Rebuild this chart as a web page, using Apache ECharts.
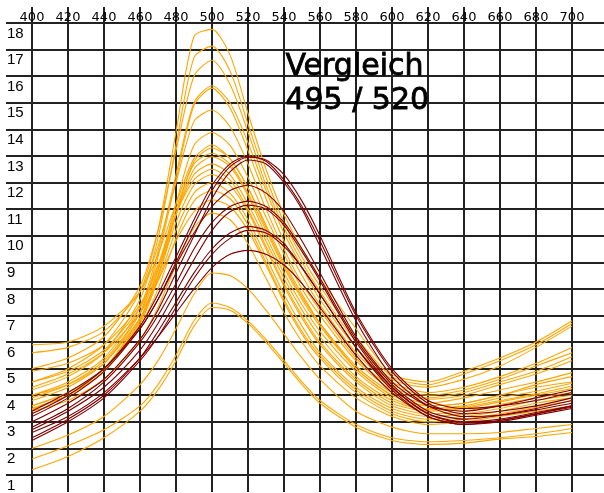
<!DOCTYPE html>
<html>
<head>
<meta charset="utf-8">
<script src="https://cdn.jsdelivr.net/npm/echarts@6/dist/echarts.min.js"></script>
<style>
  html, body { margin: 0; padding: 0; background: #fff; }
  #chart { width: 604px; height: 493px; }
</style>
</head>
<body>
<div id="chart"></div>
<script>
// wavelengths (nm)
const wl = [400, 420, 440, 460, 470, 480, 490, 500, 510, 520, 530, 540, 550, 560, 580, 600, 620, 640, 660, 680, 700];

// orange curves (peak around 495)
const o1  = [4.5, 5.0, 5.9, 7.9, 10.2, 13.9, 17.5, 17.76, 16.8, 14.6, 12.5, 10.8, 9.5, 8.4, 6.5, 4.8, 4.5, 4.9, 5.4, 6.0, 6.8];
const o2  = [4.2, 4.7, 5.6, 7.6, 9.9, 13.4, 16.7, 17.13, 16.2, 14.2, 12.2, 10.5, 9.2, 8.1, 6.2, 4.7, 4.4, 4.8, 5.3, 5.9, 6.7];
const o3  = [5.0, 5.4, 6.2, 8.1, 10.2, 13.2, 16.0, 16.6, 15.7, 13.9, 11.9, 10.3, 9.0, 7.9, 6.0, 4.6, 4.3, 4.6, 5.1, 5.8, 6.6];
const o4  = [4.0, 4.5, 5.4, 7.3, 9.4, 12.3, 15.0, 15.64, 15.0, 13.5, 11.7, 10.1, 8.8, 7.6, 5.8, 4.5, 4.1, 4.3, 4.7, 5.2, 5.8];
const o5  = [3.8, 4.3, 5.2, 7.1, 9.2, 12.1, 14.9, 15.55, 14.8, 13.2, 11.4, 9.8, 8.5, 7.4, 5.6, 4.4, 4.0, 4.2, 4.6, 5.1, 5.6];
const o6  = [5.6, 5.8, 6.4, 7.9, 9.6, 12.0, 14.3, 14.73, 14.1, 12.7, 11.0, 9.5, 8.2, 7.2, 5.4, 4.3, 3.9, 4.1, 4.5, 4.9, 5.45];
const o7  = [3.6, 4.1, 5.0, 6.8, 8.7, 11.2, 13.4, 13.88, 13.4, 12.2, 10.7, 9.3, 8.0, 7.0, 5.3, 4.2, 3.85, 4.0, 4.4, 4.8, 5.3];
const o8  = [5.9, 6.0, 6.6, 7.9, 9.3, 11.2, 12.9, 13.41, 12.9, 11.8, 10.3, 8.9, 7.7, 6.7, 5.1, 4.1, 3.7, 3.9, 4.2, 4.5, 4.85];
const o9  = [3.5, 4.0, 4.9, 6.7, 8.4, 10.8, 12.8, 13.3, 12.9, 11.8, 10.4, 9.0, 7.8, 6.7, 5.0, 4.0, 3.6, 3.7, 4.0, 4.4, 4.7];
const o10 = [4.9, 5.2, 5.9, 7.4, 8.9, 11.0, 12.7, 13.1, 12.7, 11.6, 10.2, 8.8, 7.6, 6.6, 5.0, 4.0, 3.6, 3.7, 4.0, 4.3, 4.5];
const o11 = [3.45, 4.0, 4.9, 6.8, 8.5, 10.8, 12.5, 12.97, 12.6, 11.5, 10.0, 8.6, 7.4, 6.4, 4.9, 3.9, 3.5, 3.6, 3.9, 4.15, 4.45];
const o12 = [3.9, 4.4, 5.3, 7.1, 8.7, 10.8, 12.3, 12.7, 12.3, 11.2, 9.8, 8.4, 7.2, 6.2, 4.7, 3.8, 3.45, 3.55, 3.8, 4.05, 4.35];
const o13 = [4.5, 4.9, 5.7, 7.3, 8.8, 10.8, 12.1, 12.5, 12.1, 11.0, 9.6, 8.2, 7.0, 6.0, 4.6, 3.7, 3.4, 3.5, 3.75, 4.0, 4.25];
const o14 = [3.6, 4.1, 5.0, 6.9, 8.5, 10.5, 11.9, 12.3, 11.9, 10.9, 9.5, 8.1, 6.9, 5.9, 4.5, 3.6, 3.3, 3.4, 3.65, 3.9, 4.1];
const o15 = [4.0, 4.4, 5.2, 6.9, 8.3, 10.2, 11.6, 12.0, 11.6, 10.6, 9.2, 7.8, 6.6, 5.6, 4.3, 3.5, 3.2, 3.3, 3.5, 3.8, 4.0];
const o16 = [3.5, 4.0, 4.9, 6.6, 8.0, 9.9, 11.3, 11.7, 11.4, 10.4, 9.0, 7.6, 6.4, 5.5, 4.2, 3.4, 3.1, 3.2, 3.4, 3.7, 3.9];
const o17 = [4.3, 4.8, 5.6, 7.1, 8.3, 9.8, 10.9, 11.35, 11.1, 10.2, 8.9, 7.5, 6.3, 5.4, 4.1, 3.3, 3.0, 3.1, 3.3, 3.55, 3.8];
const o18 = [3.4, 3.8, 4.6, 6.1, 7.3, 8.9, 10.3, 10.85, 10.6, 9.7, 8.4, 7.1, 6.0, 5.1, 3.9, 3.2, 2.9, 3.0, 3.2, 3.4, 3.6];
const o19 = [2.0, 2.5, 3.2, 4.4, 5.3, 6.5, 7.8, 8.6, 8.5, 8.0, 7.2, 6.3, 5.4, 4.6, 3.4, 2.8, 2.55, 2.55, 2.6, 2.75, 2.9];
const o20 = [1.6, 2.1, 2.7, 3.6, 4.4, 5.5, 6.8, 7.47, 7.3, 6.8, 6.1, 5.3, 4.5, 3.8, 2.9, 2.4, 2.25, 2.3, 2.4, 2.55, 2.75];
const o21 = [1.2, 1.7, 2.4, 3.4, 4.2, 5.3, 6.6, 7.3, 7.2, 6.7, 6.0, 5.2, 4.4, 3.7, 2.8, 2.3, 2.15, 2.2, 2.35, 2.45, 2.6];

// dark red curves (peak around 520)
const d1 = [3.3, 4.0, 5.0, 6.6, 7.8, 9.2, 10.6, 11.9, 12.7, 13.0, 12.8, 12.1, 11.1, 9.8, 7.0, 4.9, 3.7, 3.3, 3.4, 3.6, 3.9];
const d2 = [3.4, 4.1, 5.0, 6.5, 7.6, 9.0, 10.4, 11.7, 12.6, 12.95, 12.85, 12.3, 11.3, 10.0, 7.1, 5.0, 3.8, 3.5, 3.6, 3.8, 4.1];
const d3 = [3.0, 3.7, 4.6, 6.1, 7.2, 8.6, 10.0, 11.4, 12.4, 12.85, 12.7, 12.0, 11.0, 9.6, 6.8, 4.7, 3.6, 3.2, 3.25, 3.45, 3.7];
const d4 = [3.2, 3.9, 4.9, 6.5, 7.6, 8.9, 10.1, 11.1, 11.7, 11.9, 11.6, 10.9, 9.8, 8.6, 6.2, 4.5, 3.6, 3.4, 3.6, 3.9, 4.2];
const d5 = [2.8, 3.5, 4.5, 6.0, 7.0, 8.2, 9.5, 10.5, 11.1, 11.3, 11.1, 10.5, 9.5, 8.4, 6.1, 4.4, 3.4, 3.1, 3.25, 3.5, 3.8];
const d6 = [2.7, 3.4, 4.3, 5.7, 6.7, 7.9, 9.1, 10.2, 10.9, 11.15, 11.0, 10.4, 9.4, 8.3, 6.0, 4.3, 3.3, 3.0, 3.1, 3.35, 3.6];
const d7 = [2.4, 3.1, 4.0, 5.4, 6.4, 7.5, 8.6, 9.5, 10.1, 10.35, 10.2, 9.7, 8.8, 7.8, 5.8, 4.3, 3.3, 2.95, 3.05, 3.3, 3.55];
const d8 = [2.3, 3.0, 3.9, 5.3, 6.2, 7.3, 8.4, 9.3, 9.9, 10.2, 10.1, 9.6, 8.8, 7.8, 5.8, 4.2, 3.2, 2.9, 3.0, 3.25, 3.5];
const d9 = [2.6, 3.2, 4.1, 5.4, 6.2, 7.1, 8.0, 8.8, 9.3, 9.45, 9.3, 8.9, 8.2, 7.3, 5.5, 4.1, 3.2, 2.9, 3.05, 3.3, 3.6];

const orangeSet = [o1, o2, o3, o4, o5, o6, o7, o8, o9, o10, o11, o12, o13, o14, o15, o16, o17, o18, o19, o20, o21];
const redSet = [d1, d2, d3, d4, d5, d6, d7, d8, d9];

const gridColor = "#222";

let myChart = echarts.init(document.getElementById("chart"), null, { renderer: "canvas" });

function makeLine(vals, color) {
  return {
    type: "line",
    xAxisIndex: 0,
    yAxisIndex: 0,
    showSymbol: false,
    smooth: 0.25,
    silent: true,
    lineStyle: { color: color, width: 1.1 },
    data: vals.map((v, i) => [wl[i], v]),
  };
}

let series = [];
orangeSet.forEach((s) => series.push(makeLine(s, "#FFA500")));
redSet.forEach((s) => series.push(makeLine(s, "#800000")));

let option = {
  animation: false,
  backgroundColor: "#fff",
  grid: { left: 32, right: 32, top: 23, bottom: 17 },
  xAxis: [
    {
      type: "value",
      position: "top",
      min: 400,
      max: 700,
      interval: 20,
      axisLine: { show: false },
      axisTick: { show: true, length: 16, lineStyle: { color: gridColor, width: 2 } },
      axisLabel: {
        show: true,
        margin: -1,
        color: "#000",
        fontFamily: "DejaVu Sans",
        fontSize: 13,
      },
      splitLine: { show: true, lineStyle: { color: gridColor, width: 2 } },
    },
    {
      type: "value",
      position: "bottom",
      min: 400,
      max: 700,
      interval: 20,
      axisLine: { show: false },
      axisTick: { show: true, length: 17, lineStyle: { color: gridColor, width: 2 } },
      axisLabel: { show: false },
      splitLine: { show: false },
    },
  ],
  yAxis: [
    {
      type: "value",
      position: "left",
      min: 1,
      max: 18,
      interval: 1,
      axisLine: { show: false },
      axisTick: { show: true, length: 26, lineStyle: { color: gridColor, width: 2 } },
      axisLabel: {
        show: true,
        align: "left",
        verticalAlign: "top",
        margin: 25,
        padding: [3, 0, 0, 0],
        color: "#000",
        fontFamily: "Liberation Sans",
        fontSize: 15,
      },
      splitLine: { show: true, lineStyle: { color: gridColor, width: 2 } },
    },
    {
      type: "value",
      position: "right",
      min: 1,
      max: 18,
      interval: 1,
      axisLine: { show: false },
      axisTick: { show: true, length: 32, lineStyle: { color: gridColor, width: 2 } },
      axisLabel: { show: false },
      splitLine: { show: false },
    },
  ],
  graphic: [
    {
      type: "text",
      left: 285,
      top: 50,
      z: 100,
      style: {
        text: "Vergleich\n495 / 520",
        fill: "#000",
        stroke: "#000",
        lineWidth: 0.8,
        font: "30px 'DejaVu Sans'",
        lineHeight: 34,
      },
    },
  ],
  series: series,
};

myChart.setOption(option);
</script>
</body>
</html>
